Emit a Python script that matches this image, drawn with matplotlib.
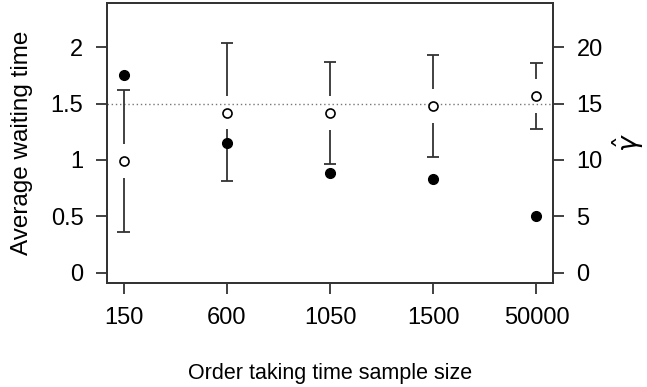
import numpy as np
import matplotlib.pyplot as plt

plt.rcParams['font.family'] = ['Liberation Sans', 'DejaVu Sans']

sizes = ["150", "600", "1050", "1500", "50000"]
avg_wait = [0.99, 1.42, 1.415, 1.48, 1.565]
upper = [1.62, 2.04, 1.87, 1.93, 1.86]
lower = [0.36, 0.81, 0.96, 1.03, 1.27]
gamma_hat = [17.5, 11.5, 8.8, 8.3, 5.0]
true_wait = 1.5

x = np.arange(1, len(sizes) + 1)
edge = "#333333"
gap = 0.15
cap = 0.06

fig = plt.figure(figsize=(6.47, 3.87), dpi=100)
ax = fig.add_axes([0.1654, 0.2687, 0.6893, 0.7235])
ax2 = ax.twinx()

ax.axhline(true_wait, color="#777777", linestyle=(0, (1, 2)), linewidth=1, zorder=1)

for xi, m, lo, hi in zip(x, avg_wait, lower, upper):
    ax.vlines(xi, m + gap, hi, color=edge, linewidth=1.3)
    ax.vlines(xi, lo, m - gap, color=edge, linewidth=1.3)
    ax.hlines([hi, lo], xi - cap, xi + cap, color=edge, linewidth=1.3)

ax.plot(x, avg_wait, "o", markerfacecolor="white", markeredgecolor="black",
        markersize=6.5, markeredgewidth=1.2, linestyle="none", zorder=3)
ax2.plot(x, gamma_hat, "o", color="black", markersize=7, linestyle="none", zorder=3)

ax.set_xlim(0.84, 5.16)
ax.set_ylim(-0.092, 2.392)
ax2.set_ylim(-0.92, 23.92)

ax.set_xticks(x)
ax.set_xticklabels(sizes)
ax.set_yticks([0, 0.5, 1, 1.5, 2])
ax.set_yticklabels(["0", "0.5", "1", "1.5", "2"])
ax2.set_yticks([0, 5, 10, 15, 20])

for a in (ax, ax2):
    for s in a.spines.values():
        s.set_color(edge)
        s.set_linewidth(1.3)
    a.tick_params(direction="out", length=8, width=1.3, color=edge,
                  labelsize=17, pad=9)

ax.set_ylabel("Average waiting time", fontsize=17.5)
ax.yaxis.set_label_coords(-0.165, 0.5)
ax.set_xlabel("Order taking time sample size", fontsize=15.5, labelpad=25)
ax2.set_ylabel(r"$\hat{\gamma}$", fontsize=19, rotation=90, labelpad=6)

fig.savefig("out.png", dpi=100)
